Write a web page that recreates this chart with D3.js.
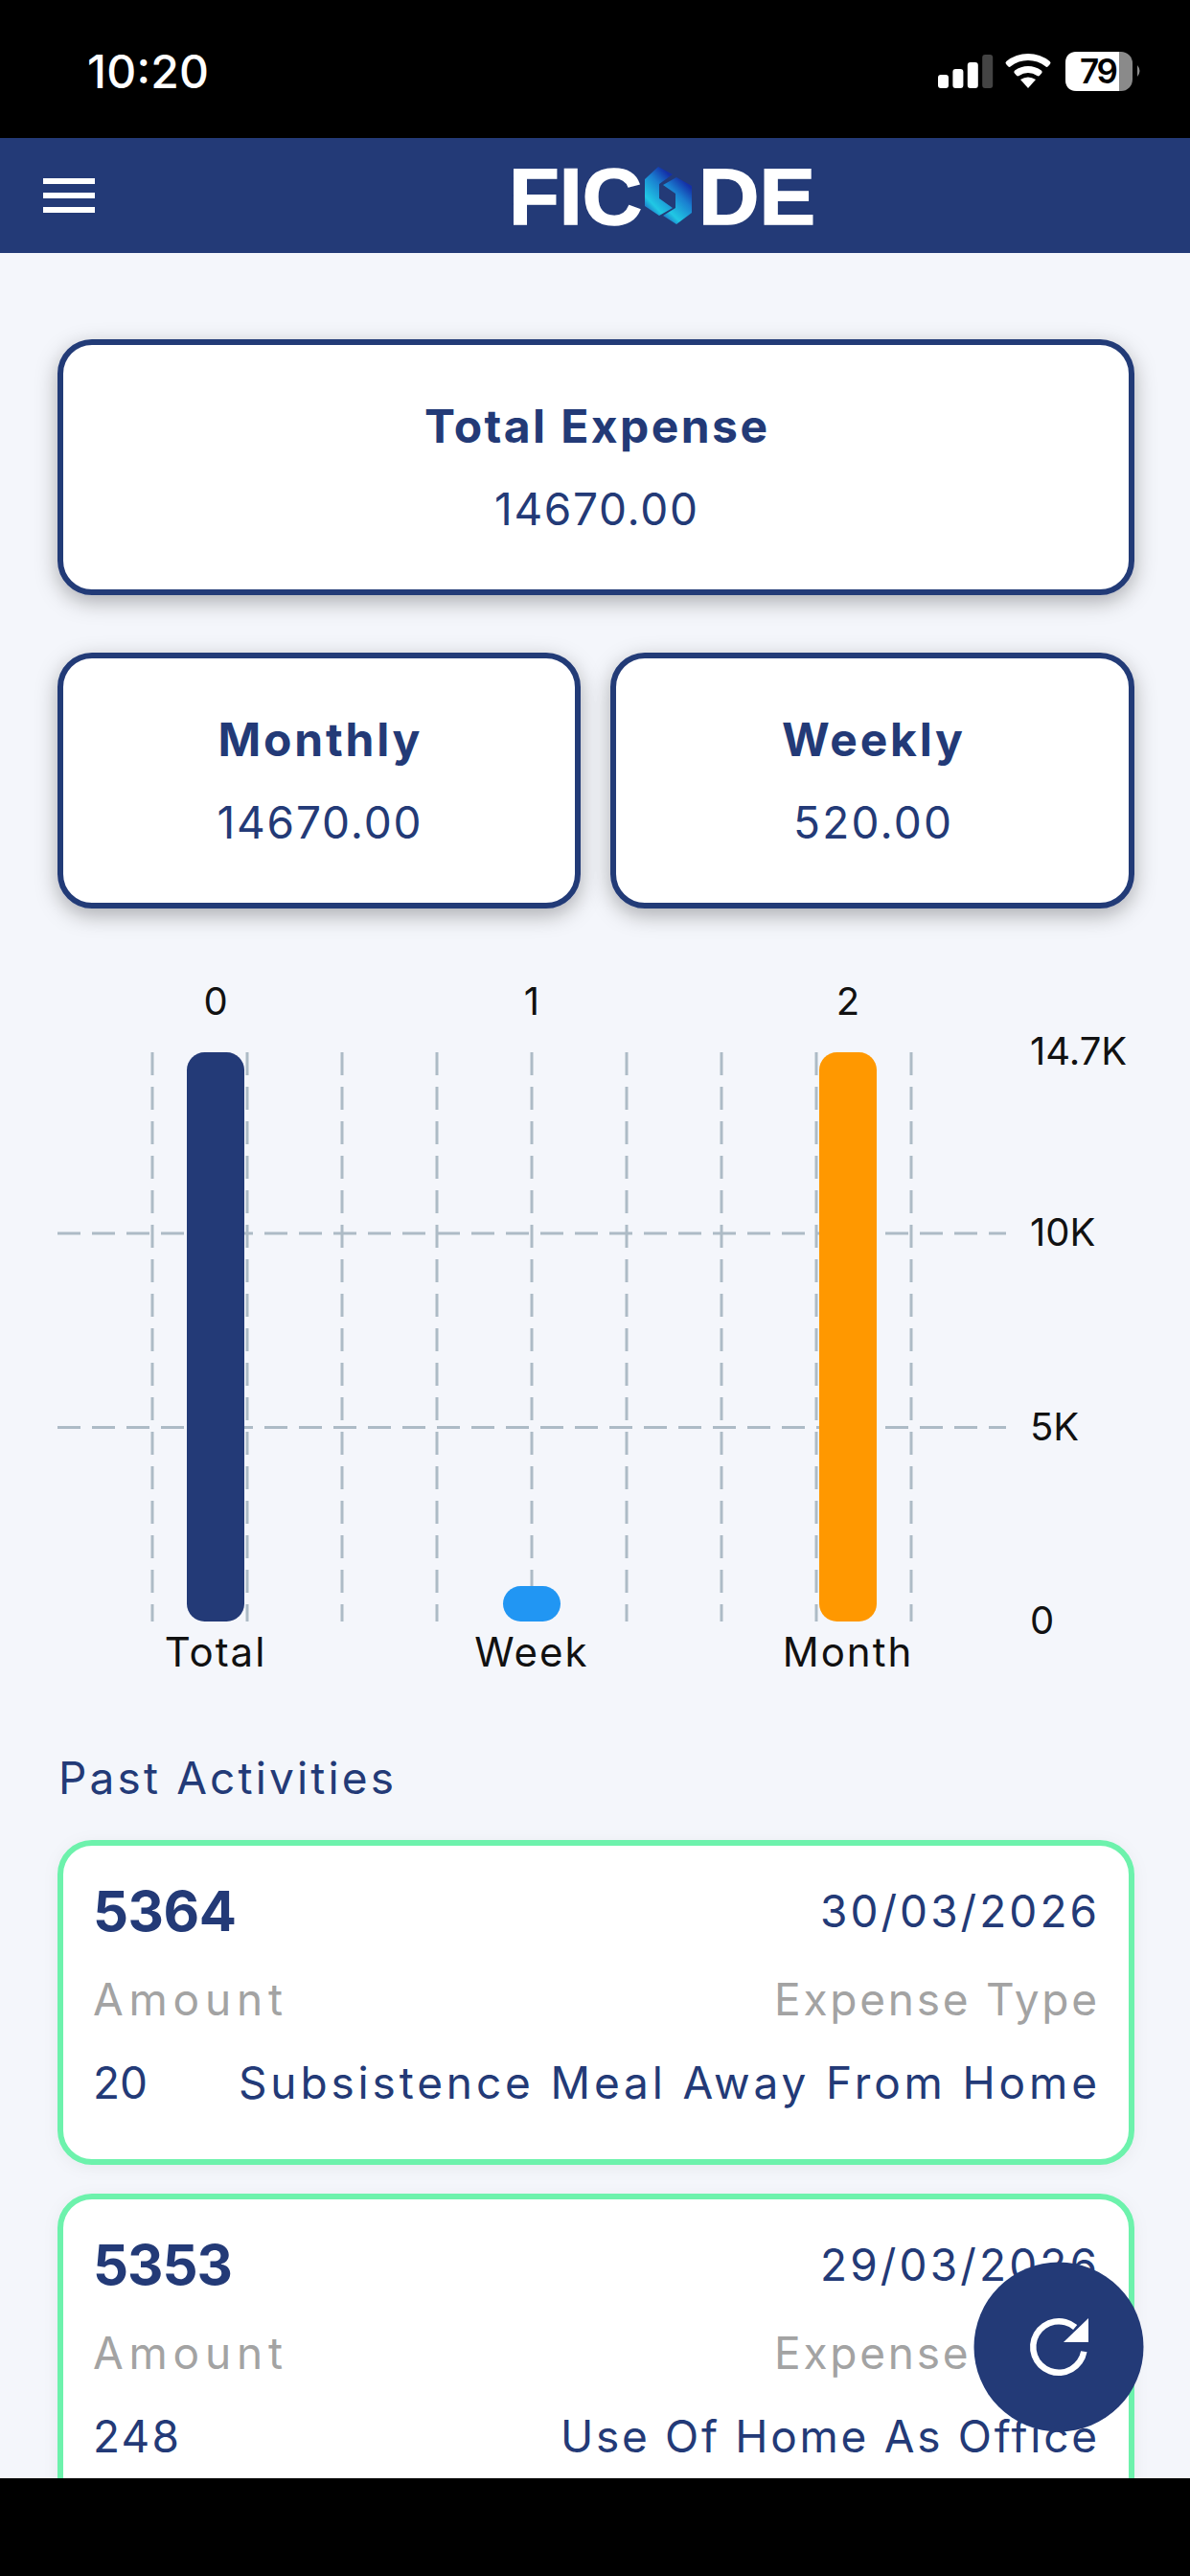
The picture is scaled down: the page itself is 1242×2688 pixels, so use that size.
<!DOCTYPE html>
<html>
<head>
<meta charset="utf-8">
<script src="https://cdn.jsdelivr.net/npm/d3@7"></script>
<style>
  html, body { margin: 0; padding: 0; background: #000; }
  svg { display: block; }
  text { font-family: Inter, "Noto Sans", sans-serif; }
</style>
</head>
<body>
<svg width="1242" height="2688"></svg>
<script>
// chart data
const categories = ['Total', 'Week', 'Month'];
const categoryIndex = ['0', '1', '2'];
const values = [14670, 520, 14670];
const barColors = ['#233a77', '#2196f3', '#ff9800'];
const yTicks = [0, 5000, 10000, 14670];
const yTickLabels = ['0', '5K', '10K', '14.7K'];

// summary cards
const summaryTitles = ['Total Expense', 'Monthly', 'Weekly'];
const summaryValues = ['14670.00', '14670.00', '520.00'];

// past activities
const activityIds = ['5364', '5353'];
const activityDates = ['30/03/2026', '29/03/2026'];
const activityAmounts = ['20', '248'];
const activityTypes = ['Subsistence Meal Away From Home', 'Use Of Home As Office'];

const navy = '#233a77';
const svg = d3.select('svg');
const defs = svg.append('defs');

const shadow = defs.append('filter').attr('id', 'shadow')
  .attr('x', '-10%').attr('y', '-25%').attr('width', '120%').attr('height', '155%');
shadow.append('feDropShadow')
  .attr('dx', 0).attr('dy', 7).attr('stdDeviation', 11)
  .attr('flood-color', '#000').attr('flood-opacity', 0.3);

const softShadow = defs.append('filter').attr('id', 'softShadow')
  .attr('x', '-10%').attr('y', '-20%').attr('width', '120%').attr('height', '150%');
softShadow.append('feDropShadow')
  .attr('dx', 0).attr('dy', 3).attr('stdDeviation', 8)
  .attr('flood-color', '#000').attr('flood-opacity', 0.05);

const logoGrad = defs.append('linearGradient').attr('id', 'logoGrad')
  .attr('x1', 0).attr('y1', 1).attr('x2', 0.6).attr('y2', 0);
logoGrad.append('stop').attr('offset', '0%').attr('stop-color', '#1a3fb5');
logoGrad.append('stop').attr('offset', '30%').attr('stop-color', '#20c8e4');
logoGrad.append('stop').attr('offset', '70%').attr('stop-color', '#1a7fd0');
logoGrad.append('stop').attr('offset', '100%').attr('stop-color', '#1430a8');

// text helper, width is forced so the run lines up with the screenshot
const label = (parent, str, x, y, opts = {}) => parent.append('text')
  .attr('x', x).attr('y', y)
  .attr('dy', '0.36em')
  .attr('text-anchor', opts.anchor || 'start')
  .attr('textLength', opts.width || null)
  .attr('font-size', opts.size || 40)
  .attr('font-weight', opts.weight || 400)
  .attr('fill', opts.fill || navy)
  .text(str);

// page
svg.append('rect').attr('width', 1242).attr('height', 2688).attr('fill', '#000');
svg.append('rect').attr('y', 264).attr('width', 1242).attr('height', 2322).attr('fill', '#f4f6fb');

// status bar
label(svg, '10:20', 91, 75, { size: 48, weight: 500, fill: '#fff', width: 127 });
const signalHeights = [14, 20, 27, 35];
svg.append('g').selectAll('rect').data(signalHeights).join('rect')
  .attr('x', (d, i) => 979 + i * 15.4)
  .attr('y', d => 92 - d)
  .attr('width', 11).attr('height', d => d).attr('rx', 3)
  .attr('fill', (d, i) => i === 3 ? '#444' : '#fff');
const wifi = svg.append('g').attr('transform', 'translate(1073,92)');
[36, 23].forEach(r => wifi.append('path')
  .attr('d', d3.arc().innerRadius(r - 7).outerRadius(r).startAngle(-0.74).endAngle(0.74).cornerRadius(2)())
  .attr('fill', '#fff'));
wifi.append('path').attr('d', 'M0,0 L-8,-9 Q0,-14 8,-9 Z').attr('fill', '#fff');
svg.append('rect').attr('x', 1112).attr('y', 54).attr('width', 70).attr('height', 41).attr('rx', 12).attr('fill', '#8a8a8a');
svg.append('path').attr('d', 'M1124,54 H1168 V95 H1124 Q1112,95 1112,83 V66 Q1112,54 1124,54 Z').attr('fill', '#fff');
svg.append('path').attr('d', 'M1187,68 Q1192,74 1187,80 Z').attr('fill', '#8a8a8a');
label(svg, '79', 1127, 74.5, { size: 35, weight: 600, fill: '#000', width: 40 });

// header
svg.append('rect').attr('y', 144).attr('width', 1242).attr('height', 120).attr('fill', navy);
svg.append('g').selectAll('rect').data([186, 201, 216]).join('rect')
  .attr('x', 45).attr('y', d => d).attr('width', 54).attr('height', 6).attr('fill', '#fff');
const logoText = (str, x, w) => label(svg, str, x, 204, { size: 83, weight: 700, fill: '#fff', width: w })
  .attr('lengthAdjust', 'spacingAndGlyphs')
  .attr('stroke', '#fff').attr('stroke-width', 1.5)
  .style('font-family', 'Liberation Sans');
logoText('FIC', 531, 139);
logoText('DE', 729, 122);
svg.append('path')
  .attr('d', 'M673,187 L687,174 L702,182 L688,192 V207 L702,217 L688,225 L673,215 Z')
  .attr('fill', 'url(#logoGrad)');
svg.append('path')
  .attr('d', 'M722,222 L706,234 L692,225 L705,217 V202 L692,193 L706,185 L722,194 Z')
  .attr('fill', 'url(#logoGrad)');

// summary cards
const cardBoxes = [
  { x: 60, y: 354, w: 1124, h: 267 },
  { x: 60, y: 681, w: 546, h: 267 },
  { x: 637, y: 681, w: 547, h: 267 }
];
const titleWidths = [358, 211, 189];
const valueWidths = [212, 213, 165];
cardBoxes.forEach((b, i) => {
  svg.append('rect')
    .attr('x', b.x + 3).attr('y', b.y + 3)
    .attr('width', b.w - 6).attr('height', b.h - 6)
    .attr('rx', 33)
    .attr('fill', '#fff').attr('stroke', navy).attr('stroke-width', 6)
    .attr('filter', 'url(#shadow)');
  label(svg, summaryTitles[i], b.x + b.w / 2, b.y + 91, { anchor: 'middle', size: 48, weight: 700, width: titleWidths[i] });
  label(svg, summaryValues[i], b.x + b.w / 2, b.y + 177, { anchor: 'middle', size: 46, width: valueWidths[i] });
});

// chart
const x = d3.scaleBand().domain(categories).range([60, 1050]);
const xTop = d3.scaleBand().domain(categoryIndex).range([60, 1050]);
const xGrid = d3.scaleLinear().domain([0, 10]).range([60, 1050]);
const y = d3.scaleLinear().domain([0, 14670]).range([1692, 1098]);
const gridColor = '#adbbc6';

svg.append('g').selectAll('line').data(d3.range(1, 10)).join('line')
  .attr('x1', d => xGrid(d)).attr('x2', d => xGrid(d))
  .attr('y1', y(14670)).attr('y2', y(0))
  .attr('stroke', gridColor).attr('stroke-width', 3).attr('stroke-dasharray', '24 12');
svg.append('g').selectAll('line').data([5000, 10000]).join('line')
  .attr('x1', 60).attr('x2', 1050)
  .attr('y1', d => y(d)).attr('y2', d => y(d))
  .attr('stroke', gridColor).attr('stroke-width', 3).attr('stroke-dasharray', '24 12');

// rounded bars keep a minimum height of two corners, like the app does
const barWidth = 60;
const barRadius = 18.5;
svg.append('g').selectAll('rect').data(values).join('rect')
  .attr('x', (d, i) => x(categories[i]) + x.bandwidth() / 2 - barWidth / 2)
  .attr('width', barWidth)
  .attr('y', d => y(0) - Math.max(y(0) - y(d), barRadius * 2))
  .attr('height', d => Math.max(y(0) - y(d), barRadius * 2))
  .attr('rx', barRadius)
  .attr('fill', (d, i) => barColors[i]);

const styleAxis = g => {
  g.select('.domain').remove();
  g.selectAll('.tick line').remove();
  g.selectAll('text').attr('font-size', 40).attr('fill', '#111').style('font-family', 'Inter');
};
svg.append('g').attr('transform', 'translate(0,1059)')
  .call(d3.axisTop(xTop).tickSize(0).tickPadding(0))
  .call(styleAxis);
svg.append('g').attr('transform', 'translate(0,1709)')
  .call(d3.axisBottom(x).tickSize(0).tickPadding(0))
  .call(styleAxis)
  .selectAll('text').attr('font-size', 42).attr('letter-spacing', 2);
svg.append('g').attr('transform', 'translate(1075,0)')
  .call(d3.axisRight(y).tickValues(yTicks).tickFormat((d, i) => yTickLabels[i]).tickSize(0).tickPadding(0))
  .call(styleAxis);

// past activities
label(svg, 'Past Activities', 61, 1855, { size: 46, width: 350 });

const activityTops = [1920, 2289];
const amountWidths = [57, 90];
const typeWidths = [896, 560];
const idWidths = [150, 146];
activityIds.forEach((id, i) => {
  const t = activityTops[i];
  svg.append('rect')
    .attr('x', 63).attr('y', t + 3)
    .attr('width', 1118).attr('height', 333)
    .attr('rx', 33)
    .attr('fill', '#fff').attr('stroke', '#6df2ac').attr('stroke-width', 6)
    .attr('filter', 'url(#softShadow)');
  label(svg, id, 97, t + 74, { size: 58, weight: 700, width: idWidths[i] });
  label(svg, activityDates[i], 1145, t + 74, { anchor: 'end', size: 46, width: 289 });
  label(svg, 'Amount', 97, t + 166, { size: 46, fill: '#a3a3a3', width: 198 });
  label(svg, 'Expense Type', 1145, t + 166, { anchor: 'end', size: 46, fill: '#a3a3a3', width: 337 });
  label(svg, activityAmounts[i], 97, t + 253, { size: 46, width: amountWidths[i] });
  label(svg, activityTypes[i], 1145, t + 253, { anchor: 'end', size: 46, width: typeWidths[i] });
});

// bottom bar covers the clipped card
svg.append('rect').attr('y', 2586).attr('width', 1242).attr('height', 102).attr('fill', '#000');

// refresh button
const fab = svg.append('g').attr('transform', 'translate(1105,2449)');
fab.append('circle').attr('r', 88.5).attr('fill', navy);
fab.append('path')
  .attr('d', d3.arc().innerRadius(23.5).outerRadius(30).startAngle(1.75).endAngle(6.98)())
  .attr('fill', '#fff');
fab.append('path').attr('d', 'M31,-30 V-5 H5 Z').attr('fill', '#fff');
</script>
</body>
</html>
